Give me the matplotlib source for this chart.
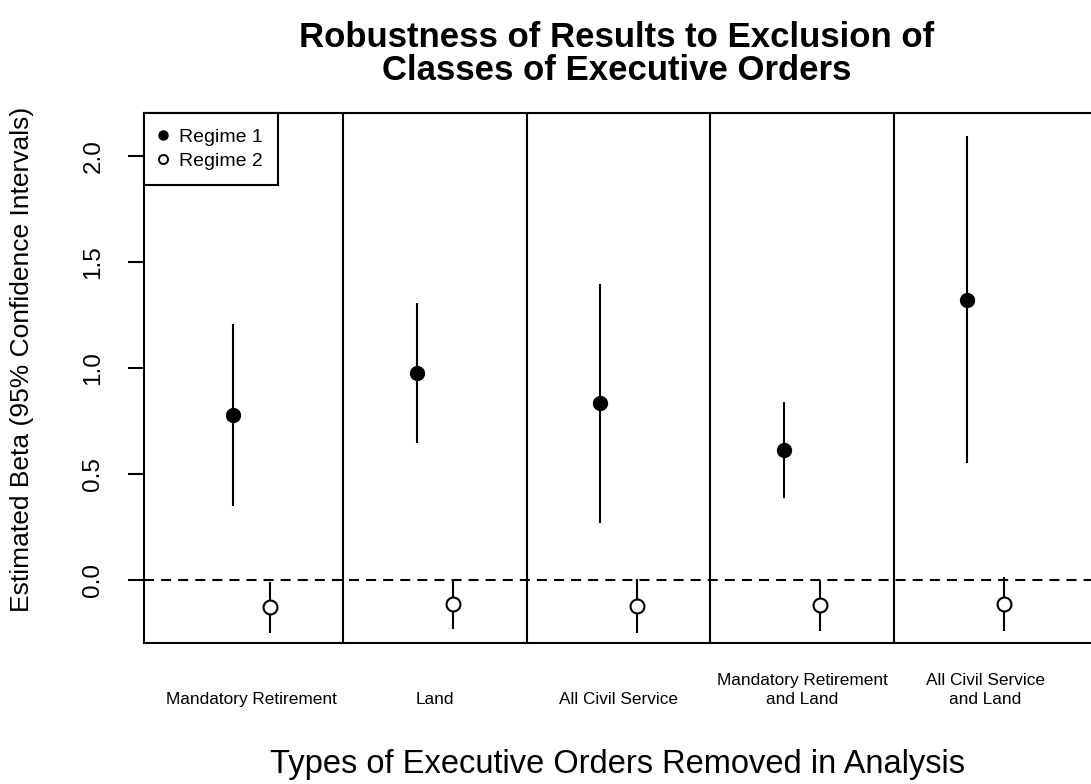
import matplotlib
matplotlib.use("Agg")
import matplotlib.pyplot as plt
from matplotlib.lines import Line2D
from matplotlib.transforms import blended_transform_factory

plt.rcParams['font.family'] = ['Liberation Sans', 'DejaVu Sans']

# --- data ---
categories = ["Mandatory Retirement", "Land", "All Civil Service",
              "Mandatory Retirement\nand Land", "All Civil Service\nand Land"]
r1_est = [0.778, 0.978, 0.833, 0.613, 1.321]
r1_lo = [0.351, 0.645, 0.267, 0.385, 0.550]
r1_hi = [1.208, 1.308, 1.396, 0.841, 2.094]
r2_est = [-0.126, -0.113, -0.121, -0.118, -0.113]
r2_lo = [-0.248, -0.233, -0.248, -0.239, -0.239]
r2_hi = [-0.008, 0.003, 0.003, 0.000, 0.016]
yticks = [0.0, 0.5, 1.0, 1.5, 2.0]

W, H = 1091, 784
fig = plt.figure(figsize=(W / 100, H / 100), dpi=100)
ax = fig.add_axes([144 / W, 1 - 643 / H, (1095 - 144) / W, (643 - 113) / H])

n = len(categories)
centers = list(range(1, n + 1))
off = 0.1
x1 = [c - off for c in centers]
x2 = [c + off for c in centers]

# confidence intervals
ax.vlines(x1, r1_lo, r1_hi, color='black', lw=1.5)
ax.vlines(x2, r2_lo, r2_hi, color='black', lw=1.5)
ax.plot(x1, r1_est, 'o', color='black', ms=10, zorder=3)
ax.plot(x2, r2_est, 'o', mfc='white', mec='black', mew=1.5, ms=10, zorder=3)

# zero line and panel separators
ax.axhline(0, color='black', lw=1.5, ls=(0, (4.8, 3.4)))
for c in centers[:-1]:
    ax.axvline(c + 0.5, color='black', lw=1.5)

ax.set_xlim(0.414, 0.414 + (1095 - 144) / 183.5)
ax.set_ylim(-0.297, 2.203)

for s in ax.spines.values():
    s.set_linewidth(1.5)

ax.set_xticks([])
ax.set_yticks(yticks)
ax.set_yticklabels([f"{v:.1f}" for v in yticks], rotation=90, va='center', fontsize=17.5)
ax.tick_params(axis='y', direction='out', length=11.5, width=1.5, pad=17)

trans = blended_transform_factory(ax.transData, ax.transAxes)
for c, lab in zip(centers, categories):
    ax.text(c, -0.121, lab, transform=trans, ha='center', va='bottom',
            multialignment='center', fontsize=12.4, linespacing=1.35)

handles = [
    Line2D([], [], ls='none', marker='o', color='black', ms=6.5),
    Line2D([], [], ls='none', marker='o', mfc='white', mec='black', mew=1.4, ms=6.5),
]
leg = ax.legend(handles, ["Regime 1", "Regime 2"], loc='upper left', fontsize=14,
                borderaxespad=0, fancybox=False, framealpha=1, edgecolor='black',
                handlelength=0.4, handletextpad=0.6, borderpad=0.8, labelspacing=0.3)
leg.get_frame().set_linewidth(1.5)

fig.text(617 / W, 1 - 54 / H, "Robustness of Results to Exclusion of\nClasses of Executive Orders",
         ha='center', va='center', fontsize=25, fontweight='bold', linespacing=1.03)
fig.text(617 / W, 1 - 765 / H, "Types of Executive Orders Removed in Analysis",
         ha='center', va='center', fontsize=23.5)
fig.text(22 / W, 1 - 359 / H, "Estimated Beta (95% Confidence Intervals)",
         ha='center', va='center', rotation=90, fontsize=19)

fig.savefig("out.png", dpi=100)
